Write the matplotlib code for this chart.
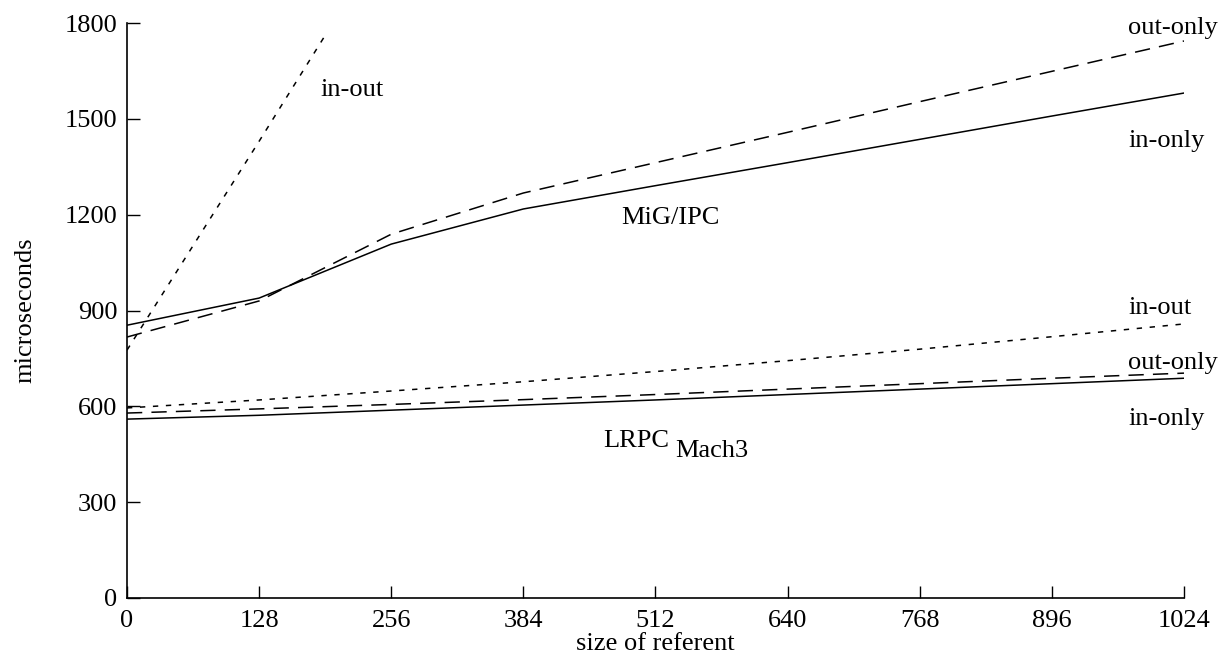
import matplotlib
matplotlib.use("Agg")
import matplotlib.pyplot as plt

plt.rcParams['font.family'] = ['Liberation Serif', 'DejaVu Serif']

sizes = [0, 128, 256, 384, 512, 640, 768, 896, 1024]

mig_in_only = [854, 939, 1108, 1218, 1291, 1363, 1436, 1509, 1581]
mig_out_only = [817, 930, 1139, 1268, 1363, 1458, 1554, 1649, 1744]
mig_in_out_x = [0, 128, 194]
mig_in_out = [776, 1430, 1772]

lrpc_in_only = [560, 572, 588, 604, 620, 637, 654, 671, 688]
lrpc_out_only = [579, 592, 606, 621, 637, 654, 671, 688, 704]
lrpc_in_out = [595, 620, 648, 677, 709, 743, 779, 818, 858]

xticks = [0, 128, 256, 384, 512, 640, 768, 896, 1024]
yticks = [0, 300, 600, 900, 1200, 1500, 1800]

fig = plt.figure(figsize=(12.21, 6.6), dpi=100)
ax = fig.add_axes([0.104, 0.094, 0.8657, 0.871])

lw = 1.1
solid = '-'
longdash = (0, (10, 6))
shortdash = (0, (3.5, 5))

ax.plot(sizes, mig_in_only, color='black', lw=lw, linestyle=solid)
ax.plot(sizes, mig_out_only, color='black', lw=lw, linestyle=longdash)
ax.plot(mig_in_out_x, mig_in_out, color='black', lw=lw, linestyle=shortdash)
ax.plot(sizes, lrpc_in_only, color='black', lw=lw, linestyle=solid)
ax.plot(sizes, lrpc_out_only, color='black', lw=lw, linestyle=longdash)
ax.plot(sizes, lrpc_in_out, color='black', lw=lw, linestyle=shortdash)

ax.set_xlim(0, 1024)
ax.set_ylim(0, 1800)
ax.set_xticks(xticks)
ax.set_yticks(yticks)
ax.spines['top'].set_visible(False)
ax.spines['right'].set_visible(False)
ax.spines['left'].set_linewidth(1.2)
ax.spines['bottom'].set_linewidth(1.2)
fs = 19
ax.tick_params(direction='in', length=9, width=1.0, labelsize=fs)
ax.tick_params(axis='x', pad=9)
ax.tick_params(axis='y', pad=7)

ax.set_xlabel('size of referent', fontsize=fs, labelpad=0.5)
ax.set_ylabel('microseconds', fontsize=fs, labelpad=20)

def label(x, y, s):
    ax.text(x, y, s, fontsize=fs, ha='left', va='center')

label(187, 1591, 'in-out')
label(970, 1785, 'out-only')
label(970, 1432, 'in-only')
label(479, 1189, 'MiG/IPC')
label(970, 909, 'in-out')
label(970, 735, 'out-only')
label(970, 560, 'in-only')
ax.text(461, 473, 'LRPC', fontsize=fs, ha='left', va='baseline')
ax.text(531, 441, 'Mach3', fontsize=fs, ha='left', va='baseline')

fig.savefig('out.png', dpi=100)
